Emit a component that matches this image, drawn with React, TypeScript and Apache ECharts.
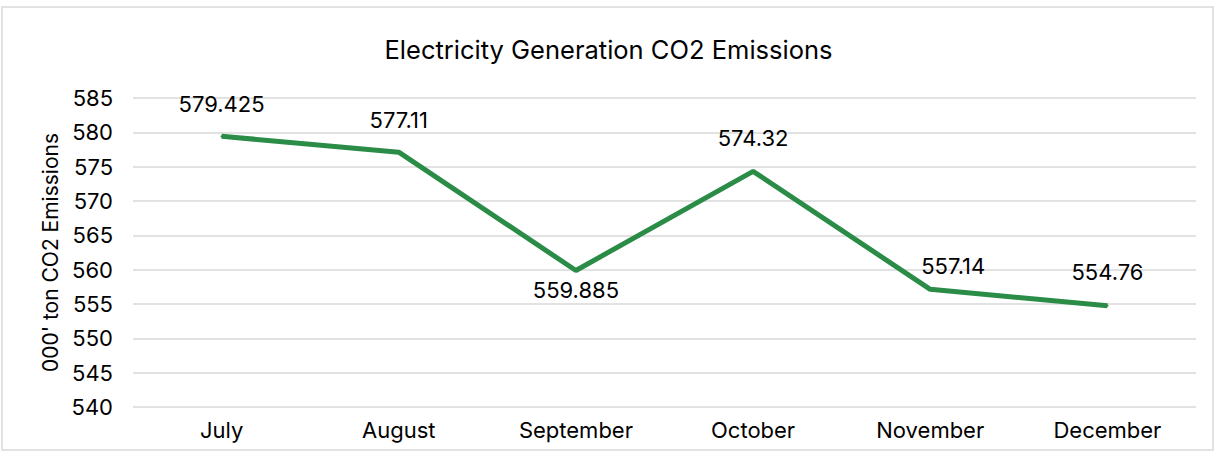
import React, { useEffect, useRef } from "react";
import * as echarts from "echarts";

const months = ["July", "August", "September", "October", "November", "December"];
const emissions = [579.425, 577.11, 559.885, 574.32, 557.14, 554.76];
const labelBelow = [false, false, true, false, false, false];
const labelGap = [20, 20, 8, 21, 11, 22];
const labelShiftX = [0, 0, 0, 0, 23, 0];

const FONT = "Inter, 'Noto Sans', sans-serif";

export default function App() {
  const ref = useRef<HTMLDivElement>(null);
  useEffect(() => {
    document.body.style.margin = "0";
    const chart = echarts.init(ref.current!, null, { renderer: "svg" });
    chart.setOption({
      animation: false,
      backgroundColor: "#ffffff",
      graphic: [
        {
          type: "rect",
          shape: { x: 2, y: 7, width: 1211, height: 443 },
          style: { fill: "none", stroke: "#d9d9d9", lineWidth: 1.5 },
          silent: true,
        },
      ],
      title: {
        text: "Electricity Generation CO2 Emissions",
        left: "center",
        top: 31,
        textStyle: { fontFamily: FONT, fontSize: 25.5, fontWeight: "normal", color: "#000" },
      },
      grid: { left: 133, right: 21, top: 98, bottom: 49, containLabel: false },
      xAxis: {
        type: "category",
        data: months,
        boundaryGap: true,
        axisLine: { show: false },
        axisTick: { show: false },
        axisLabel: { fontFamily: FONT, fontSize: 22, color: "#000", margin: 12 },
      },
      yAxis: {
        type: "value",
        min: 540,
        max: 585,
        interval: 5,
        name: "000' ton CO2 Emissions",
        nameLocation: "middle",
        nameGap: 67,
        nameTextStyle: { fontFamily: FONT, fontSize: 21, color: "#000" },
        axisLine: { show: false },
        axisTick: { show: false },
        axisLabel: { fontFamily: FONT, fontSize: 22, color: "#000", margin: 20 },
        splitLine: { lineStyle: { color: "#d9d9d9", width: 1.5 } },
      },
      series: [
        {
          type: "line",
          data: emissions.map((v, i) => ({
            value: v,
            label: {
              position: labelBelow[i] ? "bottom" : "top",
              distance: labelGap[i],
              offset: [labelShiftX[i], 0],
            },
          })),
          showSymbol: true,
          symbol: "circle",
          symbolSize: 2,
          lineStyle: { color: "#2a8c46", width: 5 },
          itemStyle: { color: "#2a8c46" },
          label: {
            show: true,
            fontFamily: FONT,
            fontSize: 22,
            color: "#000",
            formatter: (p: any) => String(p.value),
          },
        },
      ],
    });
    return () => chart.dispose();
  }, []);
  return <div ref={ref} style={{ width: 1217, height: 456 }} />;
}
